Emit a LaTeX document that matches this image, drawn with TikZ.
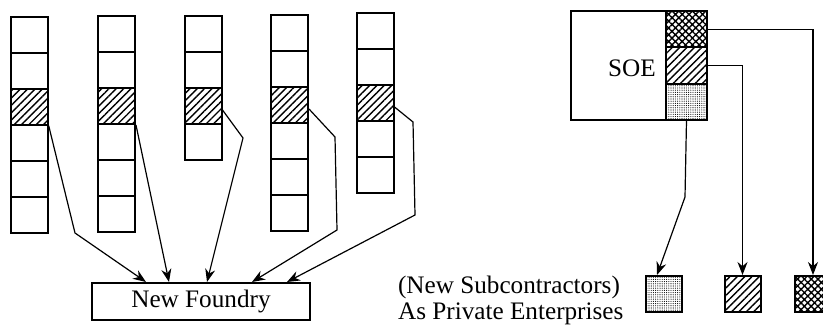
\documentclass[tikz,border=0pt]{standalone}
\usepackage{fontspec}
\setmainfont{Liberation Serif}
\usetikzlibrary{positioning,arrows.meta,patterns.meta}

\tikzset{
  cell/.style={draw, line width=1pt, minimum width=18.5pt, minimum height=18pt, inner sep=0pt},
  hatched/.style={pattern={Lines[angle=45,distance=2.6pt,line width=0.7pt]}},
  xhatch/.style={pattern={Hatch[angle=45,distance=2.4pt,line width=0.7pt]}},
  dotty/.style={pattern={Dots[distance=1.1pt,radius=0.28pt]}},
  part/.style={draw, line width=1pt, minimum width=20.5pt, minimum height=18.17pt, inner sep=0pt, outer sep=0pt},
  sub/.style={draw, line width=1pt, minimum size=18pt, inner sep=0pt},
  box/.style={draw, line width=1pt, minimum width=109pt, minimum height=18.5pt, inner sep=0pt},
  arr/.style={line width=0.6pt, -{Stealth[length=6.5pt,width=5pt]}},
}

\begin{document}
\begin{tikzpicture}[x=0.5pt,y=-0.5pt,font=\fontsize{12.6}{13}\selectfont]
    \useasboundingbox (0,0) rectangle (823,330);
    % Columns of cells, third one hatched
    \foreach \i/\x/\y/\n in {1/29.5/17/6, 2/116.5/16/6, 3/203/16/4, 4/289.5/15/6, 5/375/13/5} {
      \foreach \j in {1,...,\n}
        \node[cell] (c\i-\j) at (\x,{\y+18+36*(\j-1)}) {} ; %
      \node[cell, hatched] (h\i) at (c\i-3) {} ; %
    }
    \node[box] (nf) at (201,301.5) {New Foundry} ; %
    % Edges to the foundry
    \draw[arr] (h1.south east) -- (75,233) -- ([xshift=27.5pt]nf.north west) ; %
    \draw[arr] (h2.south east) -- ([xshift=39pt]nf.north west) ; %
    \draw[arr] ([yshift=-2pt]h3.east) -- (243,138) -- ([xshift=58pt]nf.north west) ; %
    \draw[arr] ([yshift=-2pt]h4.east) -- (335,137) -- (337,230) -- ([xshift=80.5pt]nf.north west) ; %
    \draw[arr] ([yshift=-2pt]h5.east) -- (413,122) -- (415,215) -- ([xshift=98pt]nf.north west) ; %

    % SOE and its parts
    \node[draw, line width=1pt, minimum width=68pt, minimum height=54.5pt, outer sep=0pt] (soe) at (639,65.5) {} ; %
    \node (soetxt) at (632,68) {SOE} ; %
    \node[part, xhatch, anchor=north east] (p1) at (soe.north east) {} ; %
    \node[part, hatched, below=0pt of p1] (p2) {} ; %
    \node[part, dotty, below=0pt of p2] (p3) {} ; %
    % Subcontractors
    \node[sub, dotty] (s1) at (664,294) {} ; %
    \node[sub, hatched] (s2) at (742.5,294) {} ; %
    \node[sub, xhatch] (s3) at (813,294) {} ; %
    \node[align=left, anchor=west] (lbl) at (391,300) {(New Subcontractors)\\As Private Enterprises} ; %
    \draw[arr] (p1.east) -| (s3.north) ; %
    \draw[arr] (p2.east) -| (s2.north) ; %
    \draw[arr] (p3.south) -- (685,197) -- ([xshift=-3.5pt]s1.north) ; %
\end{tikzpicture}
\end{document}
